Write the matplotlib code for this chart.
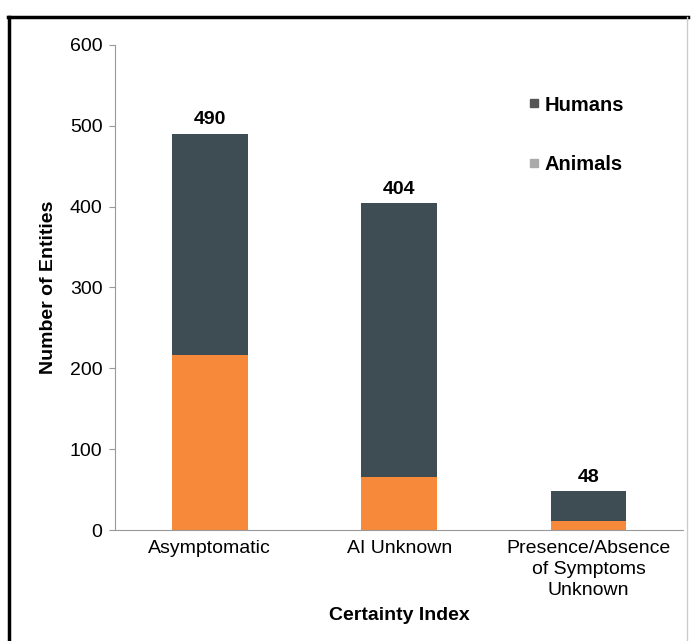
import matplotlib.pyplot as plt
from matplotlib.lines import Line2D
import numpy as np

plt.rcParams['font.family'] = ['Liberation Sans', 'DejaVu Sans']

# certainty index categories and counts
categories = ['Asymptomatic', 'AI Unknown', 'Presence/Absence\nof Symptoms\nUnknown']
animals = [216, 66, 11]
humans = [274, 338, 37]
totals = [490, 404, 48]

c_humans = '#3e4d54'
c_animals = '#f7893a'

fig = plt.figure(figsize=(6.93, 6.41), dpi=100)
ax = fig.add_axes([0.166, 0.173, 0.820, 0.757])

x = np.arange(len(categories))
ax.bar(x, animals, width=0.4, color=c_animals)
ax.bar(x, humans, width=0.4, bottom=animals, color=c_humans)

for xi, t in zip(x, totals):
    ax.text(xi, t + 7, str(t), ha='center', va='bottom', fontsize=14, fontweight='bold')

ax.set_xlim(-0.5, 2.5)
ax.set_ylim(0, 600)
ax.set_yticks(range(0, 601, 100))
ax.set_xticks(x)
ax.set_xticklabels(categories, fontsize=14, linespacing=1.3)
ax.tick_params(axis='x', length=0, pad=7)
ax.tick_params(axis='y', labelsize=14, length=4, color='#999999', pad=5)

for s in ['top', 'right']:
    ax.spines[s].set_visible(False)
ax.spines['left'].set_color('#999999')
ax.spines['bottom'].set_color('#999999')

ax.set_ylabel('Number of Entities', fontsize=14, fontweight='bold', labelpad=9)
ax.set_xlabel('Certainty Index', fontsize=14, fontweight='bold', labelpad=6)

# legend markers are plain grey squares
handles = [Line2D([], [], marker='s', ls='none', color='#555555', markersize=6),
           Line2D([], [], marker='s', ls='none', color='#aaaaaa', markersize=6)]
leg = ax.legend(handles, ['Humans', 'Animals'], loc='upper left',
                bbox_to_anchor=(0.687, 0.933), frameon=False, handletextpad=0.05,
                labelspacing=2.0, handlelength=1.0,
                prop={'weight': 'bold', 'size': 14.5})

# outer frame
fig.add_artist(Line2D([0.013, 0.013], [0.0, 0.974], color='black', lw=2.5))
fig.add_artist(Line2D([0.011, 0.993], [0.974, 0.974], color='black', lw=2.5))
fig.add_artist(Line2D([0.992, 0.992], [0.0, 0.974], color='#cccccc', lw=1))

fig.savefig('out.png', dpi=100, facecolor='white')
